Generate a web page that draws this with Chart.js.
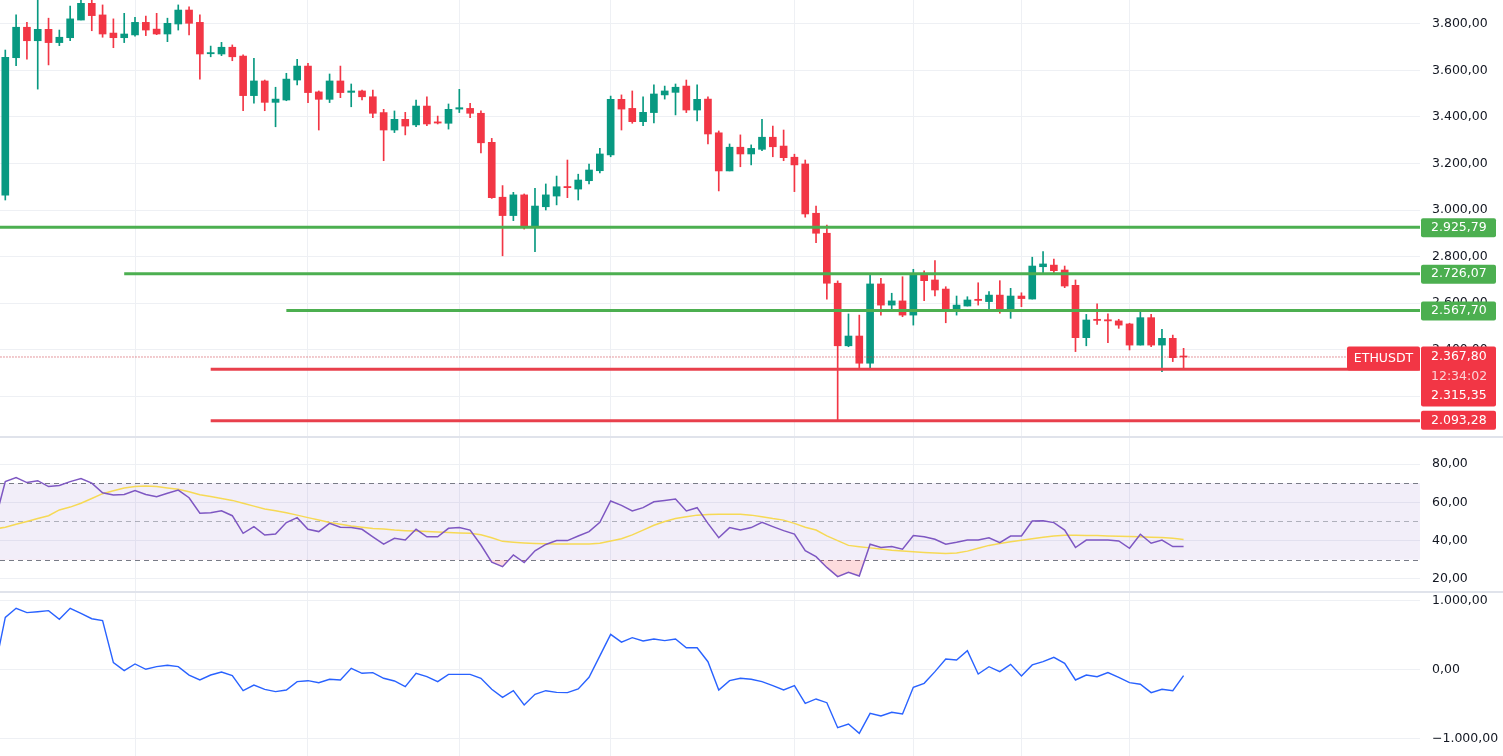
<!DOCTYPE html>
<html>
<head>
<meta charset="utf-8">
<title>ETHUSDT</title>
<script src="https://cdn.jsdelivr.net/npm/chart.js@4.4.1/dist/chart.umd.min.js"></script>
<style>
    html, body { margin: 0; padding: 0; background: #ffffff; width: 1503px; height: 756px; overflow: hidden; }
    canvas { position: absolute; left: 0; }
    .sep { position: absolute; left: 0; width: 1503px; height: 2px; background: #e0e3eb; }
</style>
</head>
<body>
<canvas id="priceChart" width="1503" height="436" style="top:0px"></canvas>
<div class="sep" style="top:436px"></div>
<canvas id="rsiChart" width="1503" height="153" style="top:438px"></canvas>
<div class="sep" style="top:591px"></div>
<canvas id="oscChart" width="1503" height="163" style="top:593px"></canvas>
<script>
// Bougies (index 0 = première bougie visible)
var opens  = [3064,3655,3786,3728,3777,3720,3741,3817,3889,3839, 3761,3741,3753,3807,3778,3757,3800,3860,3807,3672,
              3671,3700,3662,3492,3555,3463,3473,3559,3619,3508, 3476,3555,3506,3512,3487,3419,3344,3390,3366,3447,
              3379,3373,3434,3437,3416,3291,3055,2976,3065,2924, 3014,3060,3101,3090,3126,3169,3237,3476,3437,3380,
              3419,3495,3506,3533,3430,3477,3332,3168,3270,3241, 3261,3313,3275,3227,3198,2986,2900,2685,2416,2458,
              2341,2682,2591,2609,2548,2720,2699,2660,2566,2587, 2616,2606,2634,2566,2630,2617,2756,2763,2742,2676,
              2451,2530,2528,2523,2510,2419,2537,2419,2448,2372];
var highs  = [3688,3839,3807,3905,3825,3774,3877,3905,3905,3882, 3822,3846,3829,3834,3846,3825,3882,3874,3839,3705,
              3721,3710,3667,3652,3559,3528,3588,3648,3631,3512, 3585,3619,3542,3516,3516,3433,3426,3420,3473,3487,
              3404,3456,3519,3459,3427,3308,3105,3076,3069,3093, 3112,3146,3215,3154,3198,3265,3490,3495,3512,3487,
              3538,3533,3542,3559,3538,3487,3340,3284,3323,3280, 3390,3361,3344,3240,3215,3017,2935,2695,2553,2548,
              2723,2706,2642,2713,2745,2738,2782,2670,2630,2627, 2687,2649,2696,2663,2644,2797,2821,2789,2759,2699,
              2551,2596,2553,2530,2513,2567,2551,2487,2462,2405];
var lows   = [3043,3621,3649,3520,3624,3707,3728,3817,3771,3743, 3698,3720,3748,3750,3754,3724,3774,3753,3563,3659,
              3664,3642,3427,3459,3427,3358,3470,3538,3462,3344, 3462,3483,3444,3473,3397,3212,3333,3323,3358,3363,
              3370,3348,3419,3397,3246,3050,2803,2954,2918,2821, 3000,3022,3053,3043,3112,3160,3229,3344,3373,3363,
              3375,3477,3409,3419,3383,3284,3082,3168,3186,3194, 3255,3229,3212,3079,2969,2859,2616,2097,2412,2319,
              2319,2548,2573,2541,2505,2610,2630,2515,2548,2587, 2591,2563,2556,2534,2584,2617,2728,2728,2666,2391,
              2416,2508,2429,2491,2398,2419,2412,2305,2348,2319];
var closes = [3657,3786,3728,3777,3720,3743,3822,3889,3836,3757, 3741,3757,3807,3774,3757,3803,3860,3803,3671,3677,
              3700,3659,3492,3555,3463,3477,3563,3619,3505,3476, 3555,3505,3512,3487,3416,3344,3390,3361,3447,3370,
              3374,3433,3440,3416,3289,3053,2976,3065,2924,3017, 3065,3100,3096,3129,3172,3241,3476,3434,3380,3420,
              3499,3512,3528,3430,3476,3327,3168,3270,3241,3265, 3313,3272,3225,3194,2983,2900,2685,2416,2458,2341,
              2682,2591,2609,2548,2720,2696,2656,2566,2591,2613, 2611,2634,2566,2630,2619,2759,2768,2739,2673,2451,
              2527,2525,2523,2505,2419,2537,2419,2448,2365,2367.8];

// Indicateurs : la première valeur appartient à la bougie juste à gauche de la vue
var rsiValues = [49.4,
    70.8,72.9,70.3,71.3,68.2,68.8,70.8,72.4,70.0,65.0, 63.8,64.1,66.1,64.1,62.9,64.7,66.4,62.4,54.3,54.6,
    55.6,53.0,43.8,47.3,42.9,43.4,49.4,52.0,45.9,44.7, 49.0,47.0,46.8,45.9,42.0,38.2,41.2,40.3,45.9,42.0,
    42.0,46.4,46.8,45.5,37.7,28.7,26.4,32.5,28.5,34.7, 38.0,40.0,40.0,42.4,44.7,49.6,60.7,58.4,55.5,57.2,
    60.3,61.0,61.7,55.5,57.2,49.0,41.5,46.8,45.5,46.8, 49.5,47.3,45.2,43.4,34.7,31.6,26.0,21.2,23.4,21.5,
    38.1,36.4,36.9,35.5,42.6,42.0,40.7,38.1,39.1,40.3, 40.3,41.5,38.9,42.4,42.4,50.2,50.4,49.4,45.5,36.4,
    40.3,40.3,40.3,39.8,36.0,43.3,38.6,40.3,36.9,36.9];
var rsiMa = [46,
    47,48.5,50,51.5,53,56,57.5,59.5,62,64.5, 66,67.5,68.3,68.5,68.3,67.5,66.8,65.5,64,63,
    62,61,59.5,58,56.5,55.6,54.5,53.3,52,50.8, 49.5,48.5,47.6,47,46.3,46,45.5,45.2,45,44.7,
    44.5,44.2,44,43.8,43,41.5,39.6,39.2,38.8,38.5, 38.3,38.2,38.2,38.2,38.2,38.6,39.8,41,43,45.5,
    48,50,51.5,52.5,53.3,53.6,53.8,53.8,53.8,53.3, 52.5,51.5,50.7,49,47,45.5,42.5,40,37.5,36.8,
    36.2,35.6,35,34.6,34.2,33.8,33.5,33.3,33.5,34.5, 36,37.5,38.5,39.4,40.2,41,41.8,42.4,42.8,42.8,
    42.7,42.6,42.4,42.3,42.2,42,41.8,41.6,41.2,40.6];
var oscValues = [-14,
    753,884,821,835,850,725,884,811,733,705, 96,-20,77,0,38,58,38,-83,-155,-83,
    -39,-92,-310,-228,-290,-324,-300,-179,-165,-194, -145,-155,14,-58,-48,-130,-169,-252,-58,-107,
    -179,-73,-73,-73,-130,-290,-406,-310,-517,-362, -310,-334,-338,-285,-116,195,507,393,458,410,
    439,415,439,313,313,110,-300,-165,-130,-145, -179,-237,-300,-237,-493,-430,-484,-846,-793,-928,
    -638,-677,-623,-648,-261,-203,-34,149,135,270, -68,38,-34,72,-97,63,110,174,87,-155,
    -83,-107,-48,-116,-194,-217,-338,-290,-310,-92];

// Graduations des axes de droite
var priceTicks = [2200, 2400, 2600, 2800, 3000, 3200, 3400, 3600, 3800];
var rsiTicks = [20, 40, 60, 80];
var oscTicks = [-1000, 0, 1000];

// Niveaux tracés à la main
var levelValues = [2925.79, 2726.07, 2567.70, 2315.35, 2093.28];
var levelStarts = [-1, 11, 26, 19, 19];
var levelKinds  = ['up', 'up', 'up', 'down', 'down'];
var lastPrice = 2367.80;
var countdown = '12:34:02';
var symbol = 'ETHUSDT';

var timeGrid = [12, 28, 42, 56, 73, 84, 94, 104];
var rsiBands = [70, 50, 30];

var X_MIN = -0.49, X_MAX = 130.87;
var AXIS_W = 83;
var GREEN = '#089981', RED = '#f23645', LEVEL_GREEN = '#4caf50', LEVEL_RED = '#e8404c';
var GRID = '#eef0f4';
var FONT_FAMILY = '"DejaVu Sans", Verdana, sans-serif';

function fmt(v) {
    var neg = v < 0;
    var parts = Math.abs(v).toFixed(2).split('.');
    var ent = parts[0].replace(/\B(?=(\d{3})+(?!\d))/g, '.');
    return (neg ? '\u2212' : '') + ent + ',' + parts[1];
}

function xAxis() {
    return {
        type: 'linear', min: X_MIN, max: X_MAX, offset: false,
        border: { display: false },
        grid: { color: GRID, drawTicks: false, offset: false },
        ticks: { display: false },
        afterBuildTicks: function(s) { s.ticks = timeGrid.map(function(v) { return { value: v }; }); },
        afterFit: function(s) { s.height = 0; s.paddingLeft = 0; s.paddingRight = 0; }
    };
}

function yAxis(min, max, tickValues) {
    return {
        type: 'linear', position: 'right', min: min, max: max,
        border: { display: false },
        grid: { color: GRID, drawTicks: false },
        ticks: {
            padding: 12, color: '#131722', autoSkip: false,
            font: { family: FONT_FAMILY, size: 12.5 },
            callback: function(v) { return fmt(v); }
        },
        afterBuildTicks: function(s) { s.ticks = tickValues.map(function(v) { return { value: v }; }); },
        afterFit: function(s) { s.width = AXIS_W; s.paddingTop = 0; s.paddingBottom = 0; }
    };
}

var baseOptions = function(yCfg) {
    return {
        responsive: false, animation: false, events: [],
        layout: { padding: 0 },
        plugins: { legend: { display: false }, tooltip: { enabled: false } },
        scales: { x: xAxis(), y: yCfg }
    };
};

function badge(ctx, x, y, w, h, color) {
    ctx.fillStyle = color;
    ctx.beginPath();
    ctx.roundRect(x, y, w, h, 2);
    ctx.fill();
}

// Étiquettes de prix sur l'axe de droite
var badgePlugin = {
    id: 'badges',
    afterDraw: function(chart) {
        var ctx = chart.ctx, y = chart.scales.y, left = chart.chartArea.right + 1;
        ctx.save();
        ctx.font = '12.5px ' + FONT_FAMILY;
        ctx.textBaseline = 'middle';
        ctx.textAlign = 'left';
        levelValues.forEach(function(v, i) {
            if (levelKinds[i] !== 'up') return;
            var yc = y.getPixelForValue(v);
            badge(ctx, left, yc - 9, 75, 19, LEVEL_GREEN);
            ctx.fillStyle = '#ffffff';
            ctx.fillText(fmt(v), left + 10, yc + 0.5);
        });
        // prix courant + compte à rebours + support proche
        var yl = y.getPixelForValue(lastPrice);
        badge(ctx, left - 74, yl - 10.5, 73, 24, RED);
        ctx.fillStyle = '#ffffff';
        ctx.textAlign = 'center';
        ctx.fillText(symbol, left - 37.5, yl + 1.5);
        ctx.textAlign = 'left';
        badge(ctx, left, yl - 10.5, 75, 60, RED);
        ctx.fillStyle = '#ffffff';
        ctx.fillText(fmt(lastPrice), left + 10, yl);
        ctx.fillStyle = 'rgba(255,255,255,0.78)';
        ctx.fillText(countdown, left + 10, yl + 19.5);
        ctx.fillStyle = '#ffffff';
        ctx.fillText(fmt(levelValues[3]), left + 10, yl + 39);
        var yb = y.getPixelForValue(levelValues[4]);
        badge(ctx, left, yb - 10, 75, 19, RED);
        ctx.fillStyle = '#ffffff';
        ctx.fillText(fmt(levelValues[4]), left + 10, yb - 0.5);
        ctx.restore();
    }
};

// Zone 30-70 du RSI
var rsiBandPlugin = {
    id: 'rsiBand',
    beforeDatasetsDraw: function(chart) {
        var ctx = chart.ctx, y = chart.scales.y, a = chart.chartArea;
        var top = y.getPixelForValue(rsiBands[0]), bot = y.getPixelForValue(rsiBands[2]);
        ctx.save();
        ctx.fillStyle = 'rgba(126,87,194,0.1)';
        ctx.fillRect(a.left, top, a.right - a.left, bot - top);
        ctx.setLineDash([5, 4]);
        ctx.lineWidth = 1;
        rsiBands.forEach(function(v, i) {
            var p = Math.round(y.getPixelForValue(v)) + 0.5;
            ctx.strokeStyle = i === 1 ? 'rgba(120,123,134,0.55)' : '#787b86';
            ctx.beginPath();
            ctx.moveTo(a.left, p);
            ctx.lineTo(a.right, p);
            ctx.stroke();
        });
        ctx.restore();
    }
};

var candleColors = closes.map(function(c, i) { return c >= opens[i] ? GREEN : RED; });

var priceDatasets = [];
levelValues.forEach(function(v, i) {
    priceDatasets.push({
        type: 'line', order: 0,
        data: [{ x: levelStarts[i], y: v }, { x: X_MAX, y: v }],
        borderColor: levelKinds[i] === 'up' ? LEVEL_GREEN : LEVEL_RED,
        borderWidth: 3, pointRadius: 0
    });
});
priceDatasets.push({
    type: 'line', order: 1,
    data: [{ x: -1, y: lastPrice }, { x: X_MAX, y: lastPrice }],
    borderColor: '#c8303c', borderWidth: 1, borderDash: [1, 2], pointRadius: 0
});
priceDatasets.push({
    type: 'bar', order: 2, grouped: false, barThickness: 7, minBarLength: 1,
    data: opens.map(function(o, i) { return { x: i, y: [o, closes[i]] }; }),
    backgroundColor: candleColors, borderWidth: 0
});
priceDatasets.push({
    type: 'bar', order: 3, grouped: false, barThickness: 1,
    data: highs.map(function(h, i) { return { x: i, y: [lows[i], h] }; }),
    backgroundColor: candleColors, borderWidth: 0
});

new Chart(document.getElementById('priceChart').getContext('2d'), {
    type: 'bar',
    data: { datasets: priceDatasets },
    options: baseOptions(yAxis(2028, 3903.2, priceTicks)),
    plugins: [badgePlugin]
});

new Chart(document.getElementById('rsiChart').getContext('2d'), {
    type: 'line',
    data: {
        datasets: [{
            data: rsiValues.map(function(v, i) { return { x: i - 1, y: v }; }),
            borderColor: '#7e57c2', borderWidth: 1.5, pointRadius: 0,
            fill: { target: { value: 30 }, above: 'rgba(0,0,0,0)', below: 'rgba(242,54,69,0.18)' }
        }, {
            data: rsiMa.map(function(v, i) { return { x: i - 1, y: v }; }),
            borderColor: 'rgba(247,216,76,0.95)', borderWidth: 1.5, pointRadius: 0, fill: false
        }]
    },
    options: baseOptions(yAxis(13.68, 93.58, rsiTicks)),
    plugins: [rsiBandPlugin]
});

new Chart(document.getElementById('oscChart').getContext('2d'), {
    type: 'line',
    data: {
        datasets: [{
            data: oscValues.map(function(v, i) { return { x: i - 1, y: v }; }),
            borderColor: '#2962ff', borderWidth: 1.4, pointRadius: 0, fill: false
        }]
    },
    options: baseOptions(yAxis(-1256.5, 1105.8, oscTicks))
});
</script>
</body>
</html>
